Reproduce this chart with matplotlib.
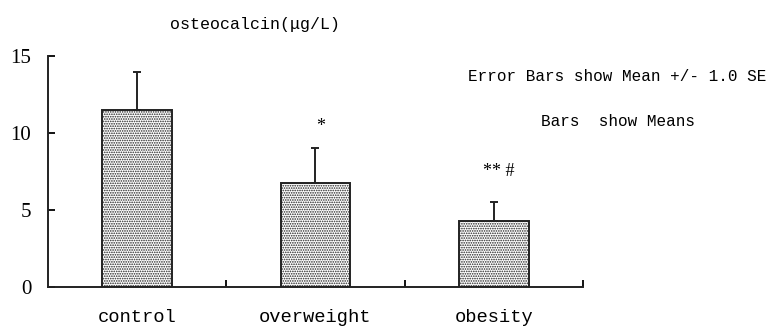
import matplotlib
matplotlib.use('Agg')
import matplotlib.pyplot as plt
import numpy as np

# data
groups = ['control', 'overweight', 'obesity']
means = [11.5, 6.75, 4.3]
se = [2.45, 2.28, 1.23]
marks = ['', '*', '** #']
mark_y = [None, 10.4, 7.5]

plt.rcParams['font.family'] = ['Liberation Mono', 'DejaVu Sans Mono']
plt.rcParams['hatch.color'] = '#b4b4b4'
plt.rcParams['hatch.linewidth'] = 0.8

fig = plt.figure(figsize=(7.68, 3.26), dpi=100)
ax = fig.add_axes([0.0625, 0.1196, 0.6966, 0.7086])

x = np.arange(len(groups))
ax.bar(x, means, width=0.39, color='white', edgecolor='#222222',
       linewidth=1.4, hatch='.......', zorder=2)
ax.errorbar(x, means, yerr=[np.zeros(len(se)), se], fmt='none',
            ecolor='#222222', elinewidth=1.4, capsize=3, capthick=1.4, zorder=3)

for i, m in enumerate(marks):
    if m:
        ax.text(x[i] + 0.03, mark_y[i], m, ha='center', va='center', fontsize=13,
                family=['Liberation Serif'])

ax.set_xlim(-0.5, 2.5)
ax.set_ylim(0, 15)
ax.set_yticks([0, 5, 10, 15])
ax.set_yticklabels(['0', '5', '10', '15'], family=['Liberation Serif'], fontsize=15)
ax.set_xticks([0.5, 1.5, 2.5])
ax.set_xticklabels([])
ax.set_xticks(x, minor=True)
ax.set_xticklabels(groups, minor=True, fontsize=13.5)
ax.tick_params(axis='x', which='minor', length=0, pad=16)
ax.tick_params(axis='x', which='major', direction='in', length=5, width=1.3)
ax.tick_params(axis='y', direction='in', length=5, width=1.3, pad=12)
for s in ['top', 'right']:
    ax.spines[s].set_visible(False)
for s in ['left', 'bottom']:
    ax.spines[s].set_linewidth(1.4)
    ax.spines[s].set_color('#222222')

fig.text(0.332, 0.925, 'osteocalcin(\u03bcg/L)', ha='center', va='center', fontsize=12)
fig.text(0.998, 0.764, 'Error Bars show Mean +/- 1.0 SE', ha='right', va='center', fontsize=11.5)
fig.text(0.805, 0.626, 'Bars  show Means', ha='center', va='center', fontsize=11.5)

fig.savefig('out.png', dpi=100)
